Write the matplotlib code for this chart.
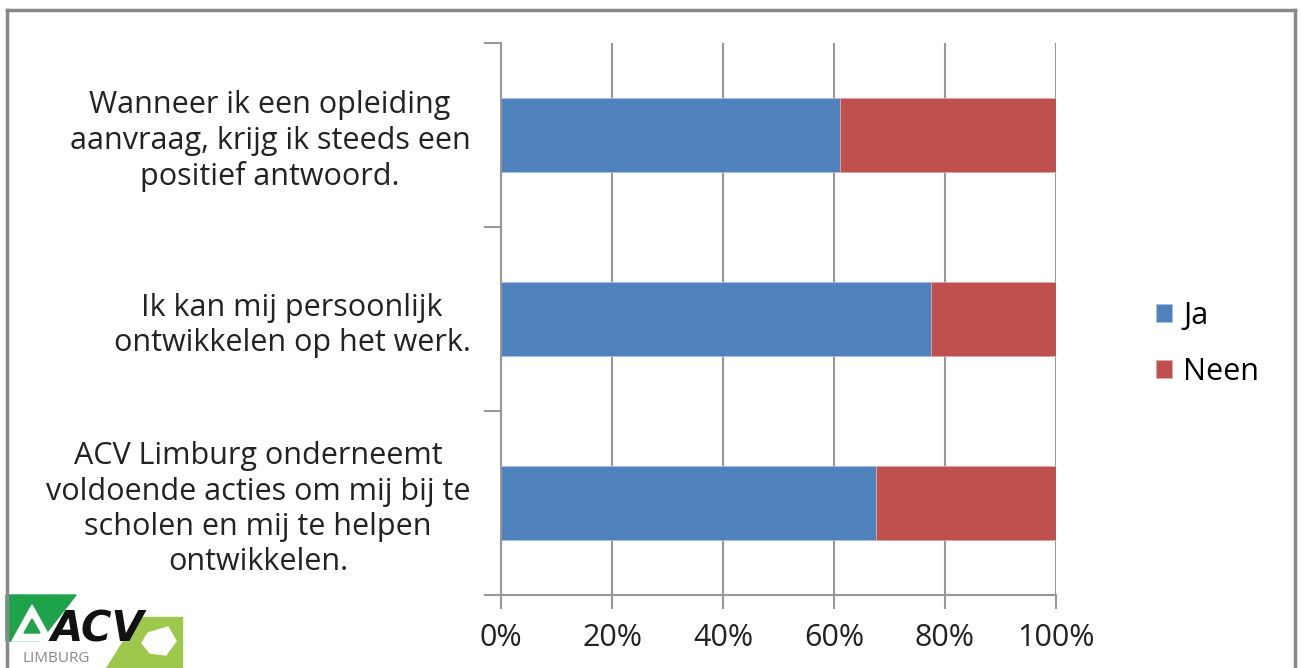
import matplotlib
matplotlib.use("Agg")
import matplotlib.pyplot as plt
from matplotlib.patches import Polygon
from matplotlib.lines import Line2D

# survey answers, share of respondents
categories = [
    "Wanneer ik een opleiding\naanvraag, krijg ik steeds een\npositief antwoord.",
    "Ik kan mij persoonlijk\nontwikkelen op het werk.",
    "ACV Limburg onderneemt\nvoldoende acties om mij bij te\nscholen en mij te helpen\nontwikkelen.",
]
ja = [0.61, 0.775, 0.675]
neen = [0.39, 0.225, 0.325]
xticks = [0, 0.2, 0.4, 0.6, 0.8, 1.0]
xtick_labels = ["0%", "20%", "40%", "60%", "80%", "100%"]

BLUE = "#4F81BD"
RED = "#C0504D"
GRID = "#989898"
W, H = 1301, 668
FS = 22

plt.rcParams['font.family'] = ['Open Sans', 'DejaVu Sans']

fig = plt.figure(figsize=(W / 100, H / 100), dpi=100)
ax = fig.add_axes([501 / W, 1 - 595 / H, (1056 - 501) / W, (595 - 43) / H])

pos = [2, 1, 0]   # first category on top
ax.barh(pos, ja, height=0.4, color=BLUE, edgecolor="#A9C0DE", linewidth=0.6, label="Ja")
ax.barh(pos, neen, left=ja, height=0.4, color=RED, edgecolor="#DDA8A6", linewidth=0.6, label="Neen")

ax.set_xlim(0, 1)
ax.set_ylim(-0.5, 2.5)
ax.set_xticks(xticks)
ax.set_xticklabels(xtick_labels, fontsize=FS, color="#222222")
ax.set_yticks([-0.5, 0.5, 1.5, 2.5])
ax.set_yticklabels([])
ax.set_yticks(pos, minor=True)
ax.set_yticklabels(categories, minor=True, fontsize=FS, color="#222222",
                   multialignment="center", linespacing=1.22)
ax.tick_params(axis="y", which="minor", length=0, pad=22)
ax.tick_params(axis="y", which="major", length=12, width=1.5, color=GRID)
ax.tick_params(axis="x", length=10, width=1.5, color=GRID, pad=10)
ax.grid(axis="x", color=GRID, linewidth=1.5)
ax.set_axisbelow(True)
for s in ["top", "right"]:
    ax.spines[s].set_visible(False)
for s in ["left", "bottom"]:
    ax.spines[s].set_color(GRID)
    ax.spines[s].set_linewidth(1.5)

ax.legend(loc="center left", bbox_to_anchor=(1.13, 0.455), frameon=False,
          fontsize=FS, handlelength=0.55, handleheight=0.55, labelspacing=0.85,
          handletextpad=0.35)

# chart frame
for xs, ys in [((7, 1295), (10, 10)), ((7, 7), (10, 668)), ((1295, 1295), (10, 668))]:
    fig.add_artist(Line2D([x / W for x in xs], [1 - y / H for y in ys],
                          color="#888888", linewidth=2.5))

# logo, bottom left
lg = fig.add_axes([0, 0, 190 / W, 85 / H])
lg.set_xlim(0, 190)
lg.set_ylim(85, 0)
lg.axis("off")
lg.add_patch(Polygon([(6, 12), (76, 12), (40, 58), (6, 58)], color="#1FA34A"))
lg.add_patch(Polygon([(12, 58), (32, 22), (52, 58)], color="white"))
lg.add_patch(Polygon([(24, 50), (32, 36), (40, 50)], color="#1FA34A"))
lg.add_patch(Polygon([(138, 34), (182, 34), (182, 85), (106, 85)], color="#9DC84B"))
lg.add_patch(Polygon([(148, 50), (168, 44), (176, 58), (166, 72), (150, 70), (142, 60)],
                     color="white"))
lg.text(98, 47, "ACV", fontsize=30, fontweight="heavy", fontstyle="italic",
        ha="center", va="center", color="#111111", family="DejaVu Sans")
lg.text(22, 68, "LIMBURG", fontsize=11, ha="left", va="top", color="#888888")

fig.savefig("out.png", dpi=100)
